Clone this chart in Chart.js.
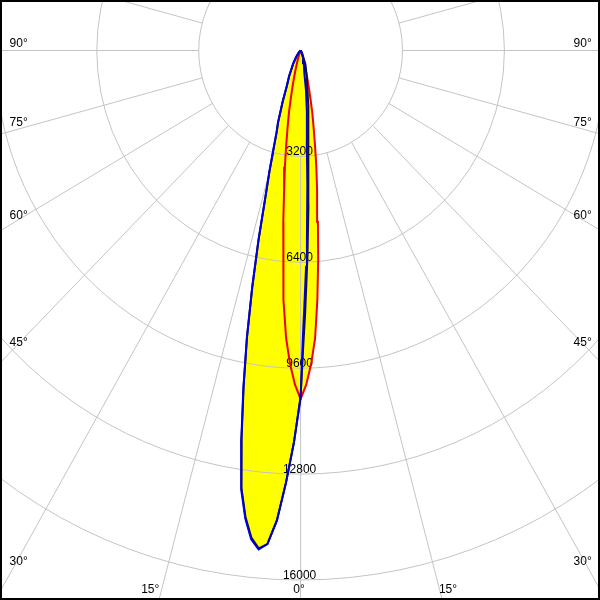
<!DOCTYPE html>
<html lang="en">
<head>
    <meta charset="UTF-8">
    <title>Polar intensity</title>
    <script src="https://cdn.jsdelivr.net/npm/chart.js@4.4.1/dist/chart.umd.min.js"></script>
    <style>
        body { margin: 0; background: #fff; }
        canvas { display: block; }
    </style>
</head>
<body>
    <canvas id="polar" width="600" height="600"></canvas>
    <script>
        // C0-C180 plane (blue), angle in degrees, value in cd
        const blueAngles = [-45, -35, -30, -25, -22, -20, -18, -17, -16, -15, -14, -13, -12, -11, -10, -9, -8, -7, -6, -5,
                            -4, -3, -2, -1, 0, 0.5, 1, 1.5, 2, 3, 4, 5, 6, 8, 10, 15, 20, 30, 40];
        const blueValues = [80, 250, 470, 850, 1150, 1650, 2300, 2570, 3075, 3780, 4575, 5875, 7300, 8830, 10350, 11900, 13400, 14250, 14850, 15130,
                            14950, 14220, 13050, 11830, 10500, 8600, 7450, 6540, 5700, 4040, 2780, 2300, 1850, 1210, 650, 400, 220, 60, 0];

        // second plane (black), almost on top of the blue one
        const blackAngles = [-45, -35, -30, -25, -22, -20, -18, -17, -16, -15, -14, -13, -12, -11, -10, -9, -8, -7, -6, -5,
                             -4, -3, -2, -1, 0, 0.5, 1, 1.5, 2, 3, 4, 5, 6, 8, 10, 13, 15, 20, 30, 40];
        const blackValues = [80, 250, 470, 850, 1150, 1650, 2300, 2570, 3075, 3780, 4575, 5875, 7300, 8830, 10300, 11850, 13350, 14200, 14800, 15100,
                             14950, 14220, 13050, 11830, 10450, 9000, 8000, 7000, 6200, 4700, 3500, 2800, 2350, 1700, 1250, 900, 700, 440, 100, 0];

        // C90-C270 plane (red)
        const redAngles = [-30, -25, -20, -18, -16, -15, -14, -13, -12, -11, -10, -9, -8, -7, -6, -5, -4, -3, -2, -1, 0,
                           1, 2, 3, 4, 5, 6, 7, 8, 9, 10, 11, 12, 13, 14, 15, 16, 18, 20, 25, 30];
        const redValues = [0, 50, 150, 280, 480, 650, 880, 1150, 1500, 1930, 2350, 2890, 3550, 4250, 5200, 6330, 7550, 8700, 9480, 10100, 10530,
                           10100, 9480, 8700, 7550, 6330, 5200, 4250, 3550, 2890, 2350, 1930, 1500, 1150, 880, 650, 480, 280, 150, 50, 0];

        const ringValues = [3200, 6400, 9600, 12800, 16000, 19200];
        const ringLabels = ['3200', '6400', '9600', '12800', '16000'];
        const spokeAngles = [-165, -150, -135, -120, -105, -90, -75, -60, -45, -30, -15, 0, 15, 30, 45, 60, 75, 90, 105, 120, 135, 150, 165, 180];
        const sideLabelAngles = [30, 45, 60, 75, 90];
        const bottomLabelAngles = [-15, 0, 15];

        function toXY(angles, values) {
            // close the curve at the centre
            const pts = [{ x: 0, y: 0 }];
            angles.forEach((a, i) => {
                const t = a * Math.PI / 180;
                pts.push({ x: values[i] * Math.sin(t), y: values[i] * Math.cos(t) });
            });
            pts.push({ x: 0, y: 0 });
            return pts;
        }

        const gridColor = '#c4c4c4';
        const font = '12px "Liberation Sans", Arial, sans-serif';

        const polarGrid = {
            id: 'polarGrid',
            beforeDatasetsDraw(chart) {
                const { ctx, chartArea } = chart;
                const sx = chart.scales.x, sy = chart.scales.y;
                const cx = sx.getPixelForValue(0), cy = sy.getPixelForValue(0);
                const px = v => sx.getPixelForValue(v) - cx;
                const py = v => sy.getPixelForValue(v) - cy;

                ctx.save();
                ctx.beginPath();
                ctx.rect(chartArea.left, chartArea.top, chartArea.right - chartArea.left, chartArea.bottom - chartArea.top);
                ctx.clip();
                ctx.strokeStyle = gridColor;
                ctx.lineWidth = 1;

                ringValues.forEach(r => {
                    ctx.beginPath();
                    ctx.ellipse(cx, cy, px(r), py(r), 0, 0, Math.PI * 2);
                    ctx.stroke();
                });

                spokeAngles.forEach(a => {
                    const t = a * Math.PI / 180;
                    const r0 = ringValues[0], r1 = 40000;
                    ctx.beginPath();
                    ctx.moveTo(cx + px(r0 * Math.sin(t)), cy + py(r0 * Math.cos(t)));
                    ctx.lineTo(cx + px(r1 * Math.sin(t)), cy + py(r1 * Math.cos(t)));
                    ctx.stroke();
                });

                ctx.fillStyle = '#000';
                ctx.font = font;
                ctx.textAlign = 'center';
                ctx.textBaseline = 'alphabetic';
                ringLabels.forEach((lbl, i) => {
                    ctx.fillText(lbl, cx - 1, cy + py(ringValues[i]) - 1);
                });

                // angle labels along the left and right edges
                const dx = 282;
                sideLabelAngles.forEach(a => {
                    const t = a * Math.PI / 180;
                    const slope = py(Math.cos(t) * 1000) / px(Math.sin(t) * 1000);
                    const y = cy + dx * slope - 4 + 21 * (1 - Math.sin(t));
                    ctx.fillText(a + '°', cx - dx, y);
                    ctx.fillText(a + '°', cx + dx, y);
                });

                // angle labels along the bottom edge
                const yb = chartArea.bottom - 7;
                bottomLabelAngles.forEach(a => {
                    const t = a * Math.PI / 180;
                    const slope = px(Math.sin(t) * 1000) / py(Math.cos(t) * 1000);
                    const x = cx + (yb - cy) * slope + Math.sign(a) * 9 - 1.5;
                    ctx.fillText(Math.abs(a) + '°', x, yb);
                });
                ctx.restore();
            },
            afterDraw(chart) {
                const ctx = chart.ctx;
                ctx.save();
                ctx.strokeStyle = '#000';
                ctx.lineWidth = 2;
                ctx.strokeRect(1, 1, chart.width - 2, chart.height - 2);
                ctx.restore();
            }
        };

        const lobe = (label, angles, values, color) => ({
            label: label,
            data: toXY(angles, values),
            showLine: true,
            borderColor: color,
            borderWidth: 2,
            backgroundColor: '#ffff00',
            fill: 'shape',
            pointRadius: 0,
            tension: 0
        });

        new Chart(document.getElementById('polar'), {
            type: 'scatter',
            data: {
                datasets: [
                    lobe('C0-C180', blueAngles, blueValues, '#0000dd'),
                    lobe('C180', blackAngles, blackValues, '#111122'),
                    lobe('C90-C270', redAngles, redValues, '#ee0000')
                ]
            },
            options: {
                responsive: false,
                animation: false,
                devicePixelRatio: 1,
                layout: { padding: 0 },
                scales: {
                    x: { type: 'linear', display: false, min: -9440, max: 9402 },
                    y: { type: 'linear', display: false, reverse: true, min: -1526, max: 16604 }
                },
                plugins: {
                    legend: { display: false },
                    tooltip: { enabled: false },
                    filler: { drawTime: 'beforeDraw' }
                }
            },
            plugins: [polarGrid]
        });
    </script>
</body>
</html>
